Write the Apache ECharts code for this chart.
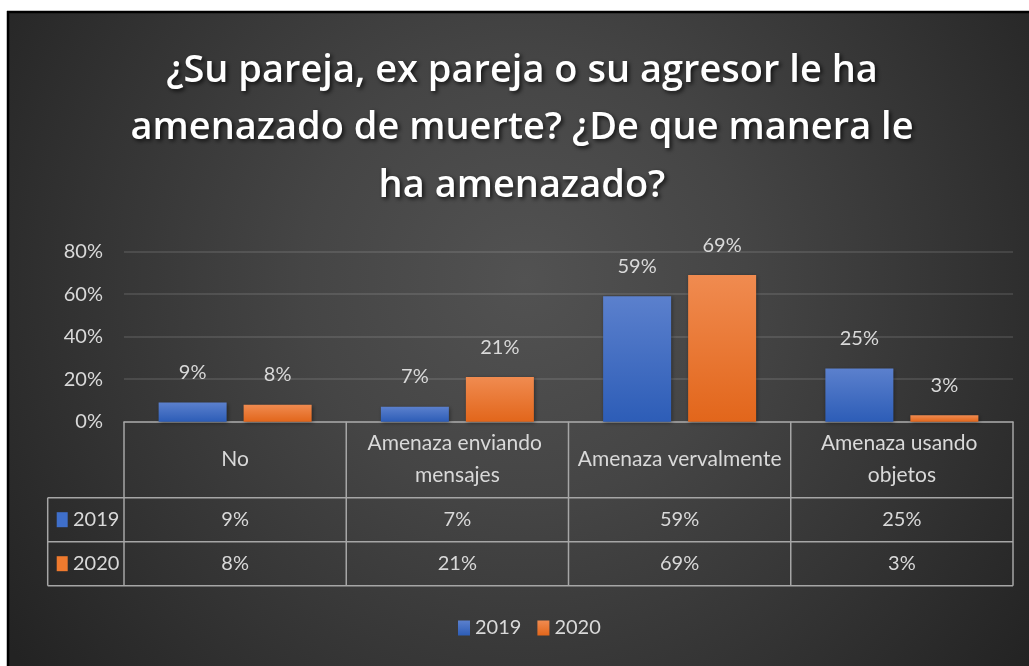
<!DOCTYPE html>
<html>
<head>
<meta charset="utf-8">
<script src="https://cdn.jsdelivr.net/npm/echarts@6/dist/echarts.min.js"></script>
<style>
html,body{margin:0;padding:0;background:#fff;}
#c{width:1029px;height:666px;}
</style>
</head>
<body>
<div id="c"></div>
<script>
// ---- data ----
const titleText = '¿Su pareja, ex pareja o su agresor le ha\namenazado de muerte? ¿De que manera le\nha amenazado?';
const categories = ['No', 'Amenaza enviando mensajes', 'Amenaza vervalmente', 'Amenaza usando objetos'];
const seriesNames = ['2019', '2020'];
const values2019 = [0.09, 0.07, 0.59, 0.25];
const values2020 = [0.08, 0.21, 0.69, 0.03];
const yMin = 0, yMax = 0.8, yInterval = 0.2;

// ---- style ----
const FONT = 'Lato, "Open Sans", sans-serif';
const TFONT = '"Open Sans", Lato, sans-serif';
const TXT = '#d9d9d9';
const LINE = '#a6a6a6';
const blueGrad = new echarts.graphic.LinearGradient(0,0,0,1,[{offset:0,color:'#5b80cd'},{offset:1,color:'#2d5db7'}]);
const orangeGrad = new echarts.graphic.LinearGradient(0,0,0,1,[{offset:0,color:'#f08b50'},{offset:1,color:'#e2661b'}]);
const keyColors = ['#3f6fca', '#ef7a2e'];
const pct = v => Math.round(v * 100) + '%';

const chart = echarts.init(document.getElementById('c'), null, {renderer: 'canvas'});

const gridLeft = 124, gridRight = 16, gridTop = 251.7, gridBottom = 244.3;

chart.setOption({
  backgroundColor: new echarts.graphic.RadialGradient(0.51, 0.42, 0.95, [
    {offset: 0, color: '#525252'},
    {offset: 0.35, color: '#454545'},
    {offset: 0.7, color: '#333333'},
    {offset: 1, color: '#232323'}
  ]),
  title: {
    text: titleText,
    left: 517,
    top: 37,
    textAlign: 'center',
    textStyle: {
      fontFamily: TFONT, fontWeight: 600, fontSize: 38, lineHeight: 57.5,
      color: '#ffffff',
      textShadowColor: 'rgba(0,0,0,0.75)', textShadowBlur: 4,
      textShadowOffsetX: 2, textShadowOffsetY: 2
    }
  },
  legend: {
    data: seriesNames,
    bottom: 23,
    left: 453,
    itemWidth: 12, itemHeight: 15, itemGap: 16,
    icon: 'rect',
    textStyle: {color: TXT, fontFamily: FONT, fontSize: 20}
  },
  grid: {left: gridLeft, right: gridRight, top: gridTop, bottom: gridBottom, containLabel: false},
  xAxis: {
    type: 'category', data: categories,
    axisLine: {show: true, lineStyle: {color: LINE, width: 1.5}},
    axisTick: {show: false}, axisLabel: {show: false}
  },
  yAxis: {
    type: 'value', min: yMin, max: yMax, interval: yInterval,
    axisLine: {show: false}, axisTick: {show: false},
    axisLabel: {formatter: v => pct(v), color: TXT, fontFamily: FONT, fontSize: 20, margin: 21},
    splitLine: {lineStyle: {color: 'rgba(255,255,255,0.14)', width: 1.5}}
  },
  series: [
    {name: seriesNames[0], type: 'bar', data: values2019, barWidth: 68, barGap: '25%',
     itemStyle: {color: blueGrad, shadowColor: 'rgba(0,0,0,0.4)', shadowBlur: 4, shadowOffsetX: 1, shadowOffsetY: 1},
     label: {show: true, position: 'top', distance: 20, formatter: p => pct(p.value), color: TXT, fontFamily: FONT, fontSize: 20}},
    {name: seriesNames[1], type: 'bar', data: values2020, barWidth: 68,
     itemStyle: {color: orangeGrad, shadowColor: 'rgba(0,0,0,0.4)', shadowBlur: 4, shadowOffsetX: 1, shadowOffsetY: 1},
     label: {show: true, position: 'top', distance: 20, formatter: p => pct(p.value), color: TXT, fontFamily: FONT, fontSize: 20}}
  ]
});

// ---- data table (positions derived from the axis scales) ----
const c0 = chart.convertToPixel({xAxisIndex: 0}, 0);
const c1 = chart.convertToPixel({xAxisIndex: 0}, 1);
const band = c1 - c0;
const tableLeft = c0 - band / 2;
const tableRight = tableLeft + band * categories.length;
const yTop = chart.convertToPixel({yAxisIndex: 0}, 0);
const headerH = 76, rowH = 44;
const keyLeft = 47.7;
const rows = [values2019, values2020];
const tableBottom = yTop + headerH + rowH * rows.length;

const g = [];
// frame: white margin and black border
g.push({type: 'rect', shape: {x: 0, y: 0, width: 1029, height: 11}, style: {fill: '#ffffff'}, silent: true});
g.push({type: 'rect', shape: {x: 0, y: 0, width: 7, height: 666}, style: {fill: '#ffffff'}, silent: true});
g.push({type: 'line', shape: {x1: 7, y1: 12, x2: 1029, y2: 12}, style: {stroke: '#000', lineWidth: 2.5}, silent: true});
g.push({type: 'line', shape: {x1: 8, y1: 11, x2: 8, y2: 666}, style: {stroke: '#000', lineWidth: 2.5}, silent: true});

const ln = (x1, y1, x2, y2) => ({type: 'line', shape: {x1, y1, x2, y2}, style: {stroke: LINE, lineWidth: 1.5}, silent: true});
for (let i = 0; i <= categories.length; i++) {
  const x = tableLeft + band * i;
  g.push(ln(x, yTop, x, tableBottom));
}
g.push(ln(keyLeft, yTop + headerH, keyLeft, tableBottom));
for (let r = 0; r <= rows.length; r++) {
  const y = yTop + headerH + rowH * r;
  g.push(ln(keyLeft, y, tableRight, y));
}
categories.forEach((cat, i) => {
  const cx = chart.convertToPixel({xAxisIndex: 0}, i);
  g.push({type: 'text', x: cx, y: yTop + headerH / 2, silent: true,
    style: {text: cat, fill: TXT, fontFamily: FONT, fontSize: 21, align: 'center', verticalAlign: 'middle',
            width: band - 6, overflow: 'break', lineHeight: 32}});
  rows.forEach((vals, r) => {
    g.push({type: 'text', x: cx, y: yTop + headerH + rowH * r + rowH / 2, silent: true,
      style: {text: pct(vals[i]), fill: TXT, fontFamily: FONT, fontSize: 20, align: 'center', verticalAlign: 'middle'}});
  });
});
seriesNames.forEach((name, r) => {
  const cy = yTop + headerH + rowH * r + rowH / 2;
  g.push({type: 'rect', shape: {x: 56.7, y: cy - 7.5, width: 11, height: 15}, style: {fill: keyColors[r]}, silent: true});
  g.push({type: 'text', x: 73, y: cy, silent: true,
    style: {text: name, fill: TXT, fontFamily: FONT, fontSize: 20, align: 'left', verticalAlign: 'middle'}});
});

chart.setOption({graphic: g});
</script>
</body>
</html>
